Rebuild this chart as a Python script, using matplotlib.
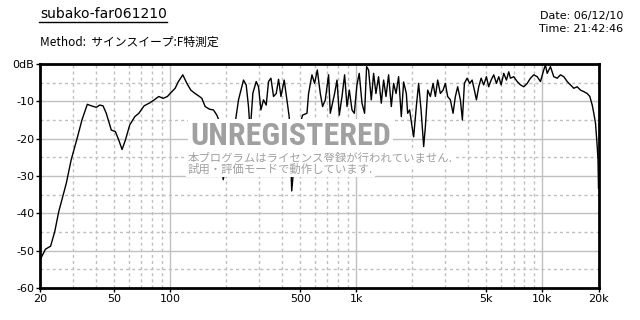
import matplotlib.pyplot as plt
from matplotlib.lines import Line2D

# frequency response (Hz, dB)
freq_hz = [20.0, 21.4, 22.8, 24.0, 25.2, 27.7, 29.4, 31.7, 33.6, 35.9,
           37.7, 40.1, 41.9, 43.6, 45.4, 48.3, 50.8, 53.0, 55.2, 57.5,
           60.7, 64.6, 67.9, 72.5, 77.8, 82.7, 86.9, 91.7, 96.7, 100,
           106.4, 110.8, 117.0, 123.0, 129.2, 136.2, 143.7, 148.1, 154.2, 162.7,
           170.9, 178.3, 184.1, 192.7, 224, 233, 247.8, 256.2, 263.6, 269.2,
           278.3, 290, 298.4, 307.4, 317.4, 328.2, 337.7, 347.9, 359.3, 371.5,
           382.3, 393.9, 410, 436, 450, 476, 514.4, 543.3, 554.2, 578.1,
           597, 617.3, 640.7, 659.1, 681.6, 709.9, 725, 764.7, 787.8, 810.5,
           838, 865.5, 891.6, 917.3, 948.4, 975.8, 1008, 1037, 1073, 1108,
           1136, 1164, 1204, 1239, 1275, 1317, 1362, 1402, 1444, 1491,
           1542, 1587, 1635, 1688, 1745, 1796, 1857, 1887, 1934, 1993,
           2033, 2101, 2162, 2228, 2301, 2350, 2418, 2500, 2585, 2660,
           2736, 2829, 2925, 3009, 3096, 3201, 3310, 3406, 3504, 3624,
           3714, 3808, 3937, 4066, 4189, 4309, 4418, 4546, 4683, 4836,
           5000, 5144, 5300, 5474, 5660, 5824, 5999, 6196, 6405, 6589,
           6730, 7012, 7315, 7620, 7938, 8281, 8622, 8983, 9367, 9757,
           10161, 10377, 10598, 11039, 11500, 11996, 12496, 13017, 13578, 14144,
           14733, 15368, 16008, 16676, 17392, 17962, 18503, 18874, 19277, 19684,
           19880, 20000]
level_db = [-52.5, -49.6, -48.8, -44.9, -39.6, -31.9, -25.7, -19.8, -15.0, -10.8,
            -11.2, -11.6, -11.0, -11.2, -13.2, -17.7, -18.1, -20.4, -22.9, -20.4,
            -16.3, -14.1, -13.2, -11.2, -10.4, -9.5, -8.7, -9.2, -8.7, -7.9,
            -6.5, -4.7, -2.9, -5.2, -7.0, -7.9, -8.7, -9.2, -11.4, -12.1,
            -12.3, -13.7, -15.5, -31.0, -15.5, -9.6, -4.3, -5.6, -11.4, -18.0,
            -7.8, -4.7, -6.1, -12.3, -9.6, -11.0, -4.7, -3.8, -8.7, -7.9,
            -4.1, -8.7, -4.3, -14.1, -34.0, -20.0, -13.7, -13.2, -7.9, -2.9,
            -5.2, -1.6, -7.9, -11.4, -9.6, -2.9, -13.2, -7.9, -4.3, -13.7,
            -8.7, -2.9, -11.4, -7.0, -12.3, -13.2, -5.6, -2.5, -10.5, -13.2,
            -0.7, -1.6, -9.6, -2.5, -7.9, -3.4, -10.5, -4.3, -8.7, -2.9,
            -11.4, -5.2, -7.9, -3.4, -14.1, -4.8, -7.9, -13.2, -12.3, -16.8,
            -19.5, -11.4, -5.2, -12.3, -22.1, -16.8, -7.0, -8.7, -5.2, -8.7,
            -4.3, -7.9, -7.0, -5.2, -8.7, -9.6, -13.2, -8.7, -6.1, -9.6,
            -15.0, -5.2, -3.8, -5.2, -4.3, -7.0, -9.6, -6.1, -3.8, -5.6,
            -3.4, -6.1, -4.3, -2.9, -5.2, -3.4, -5.6, -2.5, -4.3, -2.1,
            -3.8, -3.4, -4.7, -5.6, -6.1, -5.2, -3.8, -2.9, -3.4, -4.7,
            -1.6, -0.3, -2.5, -0.7, -3.4, -3.8, -2.9, -3.4, -4.7, -5.6,
            -6.5, -6.1, -7.0, -7.4, -7.9, -8.7, -11.0, -13.2, -15.9, -22.1,
            -25.7, -33.3]

x_ticks = [20, 50, 100, 500, 1000, 5000, 10000, 20000]
x_labels = ['20', '50', '100', '500', '1k', '5k', '10k', '20k']
y_ticks = [0, -10, -20, -30, -40, -50, -60]
y_labels = ['0dB', '-10', '-20', '-30', '-40', '-50', '-60']

plt.rcParams['font.family'] = ['DejaVu Sans', 'Noto Sans CJK JP']
jp = ['Noto Sans CJK JP', 'DejaVu Sans']

fig = plt.figure(figsize=(6.4, 3.2), dpi=100)
ax = fig.add_axes([40 / 640, 32 / 320, 558.5 / 640, 224 / 320])

# grid: solid at decades / every 10 dB, dashed in between
grid_col = '#c0c0c0'
dash = (0, (2.2, 2.2))
for dec in [10, 100, 1000, 10000]:
    for m in range(1, 10):
        f = dec * m
        if f <= 20 or f >= 20000:
            continue
        if m == 1:
            ax.axvline(f, color=grid_col, lw=1, zorder=1)
        else:
            ax.axvline(f, color=grid_col, lw=1, ls=dash, zorder=1)
for v in range(-55, 0, 5):
    if v % 10 == 0:
        ax.axhline(v, color=grid_col, lw=1, zorder=1)
    else:
        ax.axhline(v, color=grid_col, lw=1, ls=dash, zorder=1)

ax.plot(freq_hz, level_db, color='black', lw=1, zorder=2)

ax.set_xscale('log')
ax.set_xlim(20, 20000)
ax.set_ylim(-60, 0)
ax.set_xticks(x_ticks)
ax.set_xticklabels(x_labels)
ax.minorticks_off()
ax.set_yticks(y_ticks)
ax.set_yticklabels(y_labels)
ax.tick_params(axis='both', length=3, width=1, labelsize=8, pad=1, color='black')
for s in ax.spines.values():
    s.set_linewidth(2)
    s.set_zorder(5)

# watermark with white background
wm = dict(facecolor='white', edgecolor='none', pad=1.5)
ax.text((190 - 40) / 558.5, (288 - 145) / 224, 'UNREGISTERED', transform=ax.transAxes,
        fontsize=23, fontweight='bold', fontstretch='condensed',
        family=['Liberation Sans Narrow', 'Roboto Condensed', 'DejaVu Sans'],
        color='#a0a0a0', ha='left', va='baseline', bbox=wm, zorder=3)
ax.text((188 - 40) / 558.5, (288 - 158) / 224, '本プログラムはライセンス登録が行われていません.',
        transform=ax.transAxes, fontsize=8.2, family=jp, color='#a0a0a0',
        ha='left', va='center', bbox=wm, zorder=3)
ax.text((188 - 40) / 558.5, (288 - 169.5) / 224, '試用・評価モードで動作しています.',
        transform=ax.transAxes, fontsize=8.2, family=jp, color='#a0a0a0',
        ha='left', va='center', bbox=wm, zorder=3)

# header
fig.text(40 / 640, 1 - 13.5 / 320, 'subako-far061210', fontsize=10, ha='left', va='center')
fig.add_artist(Line2D([39 / 640, 167 / 640], [1 - 21.5 / 320] * 2, color='black', lw=1))
fig.text(40 / 640, 1 - 42.5 / 320, 'Method:  サインスイープ:F特測定', fontsize=8.5,
         family=jp, ha='left', va='center')
fig.text(623 / 640, 1 - 16 / 320, 'Date: 06/12/10', fontsize=8, ha='right', va='center')
fig.text(623 / 640, 1 - 28.5 / 320, 'Time: 21:42:46', fontsize=8, ha='right', va='center')

fig.savefig('out.png', dpi=100)
